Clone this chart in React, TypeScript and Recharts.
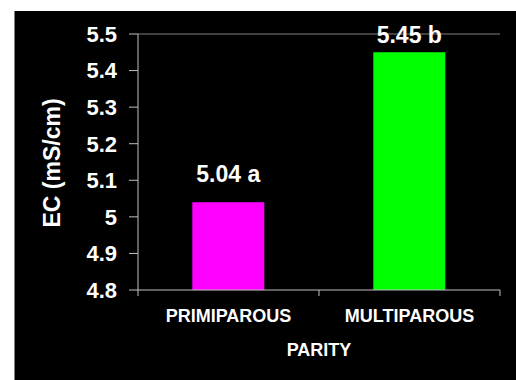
import { BarChart, Bar, XAxis, YAxis, Cell, LabelList, ReferenceLine } from "recharts"

// values
const parity = ["PRIMIPAROUS", "MULTIPAROUS"]
const ecValues = [5.04, 5.45]
const groups = ["a", "b"]
const barColors = ["#ff00ff", "#00ff00"]
const yTicks = [4.8, 4.9, 5, 5.1, 5.2, 5.3, 5.4, 5.5]

const data = parity.map((name, i) => ({ name, ec: ecValues[i], group: groups[i] }))

const W = 516
const H = 380
const margin = { top: 34, right: 16, left: 14, bottom: 0 }
const xAxisHeight = 90
const plotBottom = H - margin.bottom - xAxisHeight
const halfBand = (W - margin.left - 124 - margin.right) / 4

const font = "'Liberation Sans', Arial, sans-serif"

const CategoryTick = ({ x, payload, index }: any) => (
  <g>
    <line x1={x - halfBand} x2={x - halfBand} y1={plotBottom} y2={plotBottom + 6} stroke="#c0c0c0" />
    {index === parity.length - 1 && (
      <line x1={x + halfBand} x2={x + halfBand} y1={plotBottom} y2={plotBottom + 6} stroke="#c0c0c0" />
    )}
    <text x={x} y={plotBottom + 32} textAnchor="middle" fill="#fff" fontSize={18} fontWeight="bold" fontFamily={font}>
      {payload.value}
    </text>
  </g>
)

const ValueLabel = ({ x, y, width, value, index }: any) => {
  // Excel squeezes the top label under the frame, so the gaps differ
  const gap = index === 0 ? 20 : 9
  return (
    <text x={x + width / 2} y={y - gap} textAnchor="middle" fill="#fff" fontSize={23} fontWeight="bold" fontFamily={font}>
      {`${value} ${groups[index]}`}
    </text>
  )
}

export default function App() {
  return (
    <div style={{ position: "absolute", left: 0, top: 0, width: W, height: H, background: "#fff" }}>
      <div
        style={{
          position: "absolute",
          left: 14,
          top: 11,
          right: 0,
          bottom: 0,
          background: "#000",
          borderLeft: "1px solid #808080",
        }}
      />
      <div style={{ position: "absolute", left: 0, top: 0 }}>
        <BarChart width={W} height={H} data={data} margin={margin} barCategoryGap="30%">
          <XAxis
            dataKey="name"
            height={xAxisHeight}
            tickLine={false}
            axisLine={{ stroke: "#c0c0c0" }}
            tick={<CategoryTick />}
            interval={0}
            label={{
              value: "PARITY",
              position: "insideTop",
              offset: 53,
              fill: "#fff",
              fontSize: 18,
              fontWeight: "bold",
              fontFamily: font,
            }}
          />
          <YAxis
            width={124}
            domain={[4.8, 5.5]}
            ticks={yTicks}
            interval={0}
            tickSize={9}
            tickMargin={12}
            axisLine={{ stroke: "#c0c0c0" }}
            tickLine={{ stroke: "#c0c0c0" }}
            tick={{ fill: "#fff", fontSize: 22, fontWeight: "bold", fontFamily: font }}
            label={() => (
              <text
                x={52}
                y={163}
                transform="rotate(-90, 52, 163)"
                textAnchor="middle"
                dominantBaseline="central"
                fill="#fff"
                fontSize={23}
                fontWeight="bold"
                fontFamily={font}
              >
                EC (mS/cm)
              </text>
            )}
          />
          <YAxis yAxisId="right" orientation="right" width={0} tick={false} tickLine={false} axisLine={{ stroke: "#808080" }} />
          {/* plot frame top edge */}
          <ReferenceLine y={5.5} stroke="#808080" />
          <Bar dataKey="ec" isAnimationActive={false}>
            {data.map((d, i) => (
              <Cell key={d.name} fill={barColors[i]} />
            ))}
            <LabelList dataKey="ec" content={<ValueLabel />} />
          </Bar>
        </BarChart>
      </div>
    </div>
  )
}
